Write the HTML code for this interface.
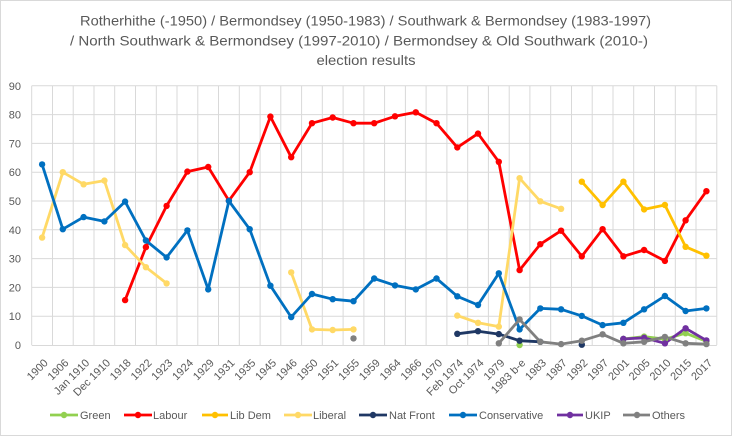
<!DOCTYPE html>
<html><head><meta charset="utf-8"><style>
html,body{margin:0;padding:0;background:#fff;}
svg{display:block;}
text{font-family:"Liberation Sans",Arial,sans-serif;fill:#595959;}
</style></head><body>
<svg width="732" height="436" viewBox="0 0 732 436" xmlns="http://www.w3.org/2000/svg">
<rect x="0.5" y="0.5" width="731" height="435" fill="#fff" stroke="#d9d9d9"/>
<g font-size="14">
<text x="80" y="25.5" textLength="571" lengthAdjust="spacingAndGlyphs">Rotherhithe (-1950) / Bermondsey (1950-1983) / Southwark &amp; Bermondsey (1983-1997)</text>
<text x="70" y="45.5" textLength="578" lengthAdjust="spacingAndGlyphs">/ North Southwark &amp; Bermondsey (1997-2010) / Bermondsey &amp; Old Southwark (2010-)</text>
<text x="316.5" y="65" textLength="99" lengthAdjust="spacingAndGlyphs">election results</text>
</g>
<g stroke="#d9d9d9" stroke-width="1" fill="none">
<path d="M31.7 85.8V345M52.5 85.8V345M73.2 85.8V345M94 85.8V345M114.7 85.8V345M135.5 85.8V345M156.3 85.8V345M177 85.8V345M197.8 85.8V345M218.5 85.8V345M239.3 85.8V345M260.1 85.8V345M280.8 85.8V345M301.6 85.8V345M322.3 85.8V345M343.1 85.8V345M363.9 85.8V345M384.6 85.8V345M405.4 85.8V345M426.1 85.8V345M446.9 85.8V345M467.7 85.8V345M488.4 85.8V345M509.2 85.8V345M529.9 85.8V345M550.7 85.8V345M571.5 85.8V345M592.2 85.8V345M613 85.8V345M633.7 85.8V345M654.5 85.8V345M675.3 85.8V345M696 85.8V345M716.8 85.8V345"/>
<path d="M31.7 345.5H716.8M31.7 316.2H716.8M31.7 287.4H716.8M31.7 258.6H716.8M31.7 229.8H716.8M31.7 201H716.8M31.7 172.2H716.8M31.7 143.4H716.8M31.7 114.6H716.8M31.7 85.8H716.8"/>
</g>
<g font-size="11" text-anchor="end">
<text x="21" y="349">0</text>
<text x="21" y="320.2">10</text>
<text x="21" y="291.4">20</text>
<text x="21" y="262.6">30</text>
<text x="21" y="233.8">40</text>
<text x="21" y="205">50</text>
<text x="21" y="176.2">60</text>
<text x="21" y="147.4">70</text>
<text x="21" y="118.6">80</text>
<text x="21" y="89.8">90</text>
</g>
<g font-size="11" text-anchor="end">
<text transform="translate(48.6,363.5) rotate(-45)">1900</text>
<text transform="translate(69.3,363.5) rotate(-45)">1906</text>
<text transform="translate(90.1,363.5) rotate(-45)">Jan 1910</text>
<text transform="translate(110.9,363.5) rotate(-45)">Dec 1910</text>
<text transform="translate(131.6,363.5) rotate(-45)">1918</text>
<text transform="translate(152.4,363.5) rotate(-45)">1922</text>
<text transform="translate(173.1,363.5) rotate(-45)">1923</text>
<text transform="translate(193.9,363.5) rotate(-45)">1924</text>
<text transform="translate(214.7,363.5) rotate(-45)">1929</text>
<text transform="translate(235.4,363.5) rotate(-45)">1931</text>
<text transform="translate(256.2,363.5) rotate(-45)">1935</text>
<text transform="translate(276.9,363.5) rotate(-45)">1945</text>
<text transform="translate(297.7,363.5) rotate(-45)">1946</text>
<text transform="translate(318.5,363.5) rotate(-45)">1950</text>
<text transform="translate(339.2,363.5) rotate(-45)">1951</text>
<text transform="translate(360,363.5) rotate(-45)">1955</text>
<text transform="translate(380.7,363.5) rotate(-45)">1959</text>
<text transform="translate(401.5,363.5) rotate(-45)">1964</text>
<text transform="translate(422.3,363.5) rotate(-45)">1966</text>
<text transform="translate(443,363.5) rotate(-45)">1970</text>
<text transform="translate(463.8,363.5) rotate(-45)">Feb 1974</text>
<text transform="translate(484.5,363.5) rotate(-45)">Oct 1974</text>
<text transform="translate(505.3,363.5) rotate(-45)">1979</text>
<text transform="translate(526.1,363.5) rotate(-45)">1983 b-e</text>
<text transform="translate(546.8,363.5) rotate(-45)">1983</text>
<text transform="translate(567.6,363.5) rotate(-45)">1987</text>
<text transform="translate(588.3,363.5) rotate(-45)">1992</text>
<text transform="translate(609.1,363.5) rotate(-45)">1997</text>
<text transform="translate(629.9,363.5) rotate(-45)">2001</text>
<text transform="translate(650.6,363.5) rotate(-45)">2005</text>
<text transform="translate(671.4,363.5) rotate(-45)">2010</text>
<text transform="translate(692.1,363.5) rotate(-45)">2015</text>
<text transform="translate(712.9,363.5) rotate(-45)">2017</text>
</g>

<g fill="none" stroke-width="2.8" stroke-linejoin="round" stroke-linecap="round">
<!-- Green -->
<polyline stroke="#92d050" points="623.4,339 644.1,336.6 664.9,339.2 685.6,333.2 706.4,341.3"/>
<!-- Labour -->
<polyline stroke="#ff0000" points="125.1,300.1 145.9,247.1 166.6,205.9 187.4,171.6 208.2,167 228.9,200.7 249.7,172.2 270.4,116.6 291.2,157.2 312,123.2 332.7,117.5 353.5,123.2 374.2,123.2 395,116.3 415.8,112.3 436.5,123.2 457.3,147.4 478,133.6 498.8,161.8 519.6,270.1 540.3,244.2 561.1,230.7 581.8,256.3 602.6,229.2 623.4,256.3 644.1,250 664.9,260.9 685.6,220.3 706.4,191.2"/>
<!-- Lib Dem -->
<polyline stroke="#ffc000" points="581.8,181.7 602.6,205 623.4,181.7 644.1,209.4 664.9,205 685.6,246.8 706.4,255.7"/>
<!-- Liberal -->
<polyline stroke="#ffd966" points="42.1,237.6 62.8,172.2 83.6,184.3 104.4,180.6 125.1,245.1 145.9,267.2 166.6,283.4"/>
<polyline stroke="#ffd966" points="291.2,272.4 312,329.4 332.7,330 353.5,329.4"/>
<polyline stroke="#ffd966" points="457.3,315.6 478,322.8 498.8,326.6 519.6,178.2 540.3,201.3 561.1,208.8"/>
<!-- Nat Front -->
<polyline stroke="#1f3864" points="457.3,333.8 478,331.2 498.8,334.1 519.6,340.7 540.3,341.8"/>
<!-- Conservative -->
<polyline stroke="#0070c0" points="42.1,164.4 62.8,229.2 83.6,217.1 104.4,221.4 125.1,201.6 145.9,240.5 166.6,257.4 187.4,230.4 208.2,289.4 228.9,201 249.7,229.2 270.4,285.7 291.2,317.1 312,294 332.7,299.2 353.5,301.2 374.2,278.5 395,285.4 415.8,289.4 436.5,278.5 457.3,296.3 478,305 498.8,273.3 519.6,329.4 540.3,308.4 561.1,309.3 581.8,315.9 602.6,325.1 623.4,322.8 644.1,309.3 664.9,296 685.6,311 706.4,308.4"/>
<!-- UKIP -->
<polyline stroke="#7030a0" points="623.4,339 644.1,337.8 664.9,343.3 685.6,328.3 706.4,340.4"/>
<!-- Others -->
<polyline stroke="#808080" points="498.8,343.3 519.6,319.4 540.3,341.8 561.1,344.1 581.8,340.7 602.6,334.3 623.4,343.3 644.1,341.8 664.9,336.9 685.6,343.3 706.4,344.1"/>
</g>

<!-- markers -->
<g fill="#92d050">
<circle cx="519.6" cy="345" r="3.2"/><circle cx="623.4" cy="339" r="3.2"/><circle cx="644.1" cy="336.6" r="3.2"/><circle cx="664.9" cy="339.2" r="3.2"/><circle cx="685.6" cy="333.2" r="3.2"/><circle cx="706.4" cy="341.3" r="3.2"/>
</g>
<g fill="#ff0000">
<circle cx="125.1" cy="300.1" r="3.2"/><circle cx="145.9" cy="247.1" r="3.2"/><circle cx="166.6" cy="205.9" r="3.2"/><circle cx="187.4" cy="171.6" r="3.2"/><circle cx="208.2" cy="167" r="3.2"/><circle cx="228.9" cy="200.7" r="3.2"/><circle cx="249.7" cy="172.2" r="3.2"/><circle cx="270.4" cy="116.6" r="3.2"/><circle cx="291.2" cy="157.2" r="3.2"/><circle cx="312" cy="123.2" r="3.2"/><circle cx="332.7" cy="117.5" r="3.2"/><circle cx="353.5" cy="123.2" r="3.2"/><circle cx="374.2" cy="123.2" r="3.2"/><circle cx="395" cy="116.3" r="3.2"/><circle cx="415.8" cy="112.3" r="3.2"/><circle cx="436.5" cy="123.2" r="3.2"/><circle cx="457.3" cy="147.4" r="3.2"/><circle cx="478" cy="133.6" r="3.2"/><circle cx="498.8" cy="161.8" r="3.2"/><circle cx="519.6" cy="270.1" r="3.2"/><circle cx="540.3" cy="244.2" r="3.2"/><circle cx="561.1" cy="230.7" r="3.2"/><circle cx="581.8" cy="256.3" r="3.2"/><circle cx="602.6" cy="229.2" r="3.2"/><circle cx="623.4" cy="256.3" r="3.2"/><circle cx="644.1" cy="250" r="3.2"/><circle cx="664.9" cy="260.9" r="3.2"/><circle cx="685.6" cy="220.3" r="3.2"/><circle cx="706.4" cy="191.2" r="3.2"/>
</g>
<g fill="#ffc000">
<circle cx="581.8" cy="181.7" r="3.2"/><circle cx="602.6" cy="205" r="3.2"/><circle cx="623.4" cy="181.7" r="3.2"/><circle cx="644.1" cy="209.4" r="3.2"/><circle cx="664.9" cy="205" r="3.2"/><circle cx="685.6" cy="246.8" r="3.2"/><circle cx="706.4" cy="255.7" r="3.2"/>
</g>
<g fill="#ffd966">
<circle cx="42.1" cy="237.6" r="3.2"/><circle cx="62.8" cy="172.2" r="3.2"/><circle cx="83.6" cy="184.3" r="3.2"/><circle cx="104.4" cy="180.6" r="3.2"/><circle cx="125.1" cy="245.1" r="3.2"/><circle cx="145.9" cy="267.2" r="3.2"/><circle cx="166.6" cy="283.4" r="3.2"/>
<circle cx="291.2" cy="272.4" r="3.2"/><circle cx="312" cy="329.4" r="3.2"/><circle cx="332.7" cy="330" r="3.2"/><circle cx="353.5" cy="329.4" r="3.2"/>
<circle cx="457.3" cy="315.6" r="3.2"/><circle cx="478" cy="322.8" r="3.2"/><circle cx="498.8" cy="326.6" r="3.2"/><circle cx="519.6" cy="178.2" r="3.2"/><circle cx="540.3" cy="201.3" r="3.2"/><circle cx="561.1" cy="208.8" r="3.2"/>
</g>
<g fill="#1f3864">
<circle cx="457.3" cy="333.8" r="3.2"/><circle cx="478" cy="331.2" r="3.2"/><circle cx="498.8" cy="334.1" r="3.2"/><circle cx="519.6" cy="340.7" r="3.2"/><circle cx="540.3" cy="341.8" r="3.2"/><circle cx="581.8" cy="344.7" r="3.2"/><circle cx="623.4" cy="339" r="3.2"/>
</g>
<g fill="#0070c0">
<circle cx="42.1" cy="164.4" r="3.2"/><circle cx="62.8" cy="229.2" r="3.2"/><circle cx="83.6" cy="217.1" r="3.2"/><circle cx="104.4" cy="221.4" r="3.2"/><circle cx="125.1" cy="201.6" r="3.2"/><circle cx="145.9" cy="240.5" r="3.2"/><circle cx="166.6" cy="257.4" r="3.2"/><circle cx="187.4" cy="230.4" r="3.2"/><circle cx="208.2" cy="289.4" r="3.2"/><circle cx="228.9" cy="201" r="3.2"/><circle cx="249.7" cy="229.2" r="3.2"/><circle cx="270.4" cy="285.7" r="3.2"/><circle cx="291.2" cy="317.1" r="3.2"/><circle cx="312" cy="294" r="3.2"/><circle cx="332.7" cy="299.2" r="3.2"/><circle cx="353.5" cy="301.2" r="3.2"/><circle cx="374.2" cy="278.5" r="3.2"/><circle cx="395" cy="285.4" r="3.2"/><circle cx="415.8" cy="289.4" r="3.2"/><circle cx="436.5" cy="278.5" r="3.2"/><circle cx="457.3" cy="296.3" r="3.2"/><circle cx="478" cy="305" r="3.2"/><circle cx="498.8" cy="273.3" r="3.2"/><circle cx="519.6" cy="329.4" r="3.2"/><circle cx="540.3" cy="308.4" r="3.2"/><circle cx="561.1" cy="309.3" r="3.2"/><circle cx="581.8" cy="315.9" r="3.2"/><circle cx="602.6" cy="325.1" r="3.2"/><circle cx="623.4" cy="322.8" r="3.2"/><circle cx="644.1" cy="309.3" r="3.2"/><circle cx="664.9" cy="296" r="3.2"/><circle cx="685.6" cy="311" r="3.2"/><circle cx="706.4" cy="308.4" r="3.2"/>
</g>
<g fill="#7030a0">
<circle cx="623.4" cy="339" r="3.2"/><circle cx="644.1" cy="337.8" r="3.2"/><circle cx="664.9" cy="343.3" r="3.2"/><circle cx="685.6" cy="328.3" r="3.2"/><circle cx="706.4" cy="340.4" r="3.2"/>
</g>
<g fill="#808080">
<circle cx="353.5" cy="338.4" r="3.2"/>
<circle cx="498.8" cy="343.3" r="3.2"/><circle cx="519.6" cy="319.4" r="3.2"/><circle cx="540.3" cy="341.8" r="3.2"/><circle cx="561.1" cy="344.1" r="3.2"/><circle cx="581.8" cy="340.7" r="3.2"/><circle cx="602.6" cy="334.3" r="3.2"/><circle cx="623.4" cy="343.3" r="3.2"/><circle cx="644.1" cy="341.8" r="3.2"/><circle cx="664.9" cy="336.9" r="3.2"/><circle cx="685.6" cy="343.3" r="3.2"/><circle cx="706.4" cy="344.1" r="3.2"/>
</g>

<!-- legend -->
<g stroke-width="2.8" fill="none">
<line x1="50" y1="415" x2="78" y2="415" stroke="#92d050"/>
<line x1="124" y1="415" x2="152" y2="415" stroke="#ff0000"/>
<line x1="202" y1="415" x2="228" y2="415" stroke="#ffc000"/>
<line x1="284" y1="415" x2="312" y2="415" stroke="#ffd966"/>
<line x1="359" y1="415" x2="387" y2="415" stroke="#1f3864"/>
<line x1="449" y1="415" x2="477" y2="415" stroke="#0070c0"/>
<line x1="557" y1="415" x2="583" y2="415" stroke="#7030a0"/>
<line x1="623" y1="415" x2="650" y2="415" stroke="#808080"/>
</g>
<circle cx="64" cy="415" r="3.2" fill="#92d050"/>
<circle cx="138" cy="415" r="3.2" fill="#ff0000"/>
<circle cx="215" cy="415" r="3.2" fill="#ffc000"/>
<circle cx="298" cy="415" r="3.2" fill="#ffd966"/>
<circle cx="373" cy="415" r="3.2" fill="#1f3864"/>
<circle cx="463" cy="415" r="3.2" fill="#0070c0"/>
<circle cx="570" cy="415" r="3.2" fill="#7030a0"/>
<circle cx="637" cy="415" r="3.2" fill="#808080"/>
<g font-size="11">
<text x="80" y="419">Green</text>
<text x="153" y="419">Labour</text>
<text x="230" y="419">Lib Dem</text>
<text x="313" y="419">Liberal</text>
<text x="389" y="419">Nat Front</text>
<text x="479" y="419">Conservative</text>
<text x="585" y="419">UKIP</text>
<text x="652" y="419">Others</text>
</g>
</svg>
</body></html>
